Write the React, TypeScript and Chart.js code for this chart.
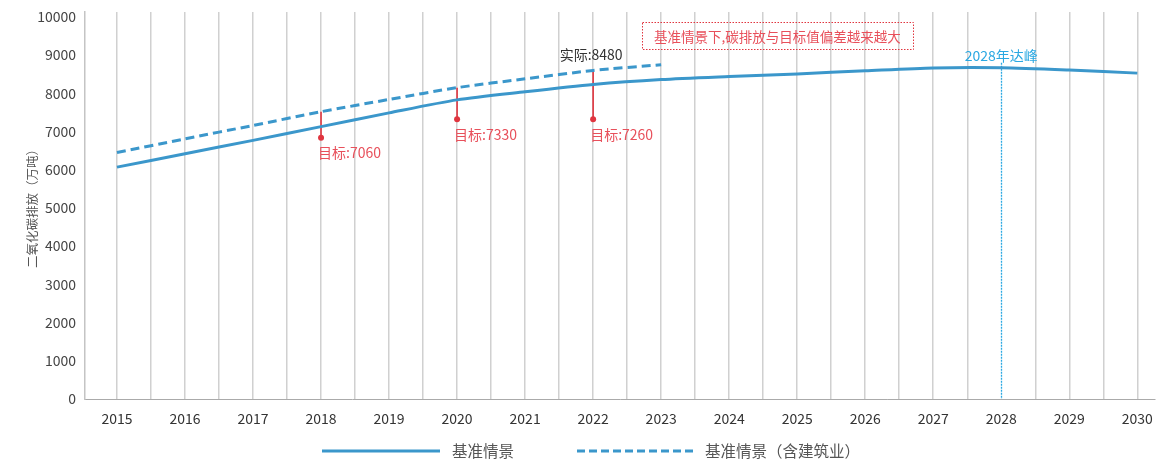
import React, { useEffect, useRef } from 'react';
import { Chart, registerables } from 'chart.js';

Chart.register(...registerables);

// ---- data ----
const YEARS = [2015, 2016, 2017, 2018, 2019, 2020, 2021, 2022, 2023, 2024, 2025, 2026, 2027, 2028, 2029, 2030];
const BASELINE = [6070, 6420, 6770, 7130, 7490, 7830, 8040, 8230, 8360, 8440, 8510, 8590, 8665, 8670, 8610, 8530];
const BUILDING_YEARS = [2015, 2016, 2017, 2018, 2019, 2020, 2021, 2022, 2023];
const WITH_BUILDING = [6450, 6810, 7160, 7520, 7840, 8150, 8380, 8600, 8750];
const TARGET_YEARS = [2018, 2020, 2022];
const TARGET_VALUES = [6840, 7320, 7320];
const TARGET_LABELS = ['目标:7060', '目标:7330', '目标:7260'];
const ACTUAL_YEAR = 2022;
const ACTUAL_LABEL = '实际:8480';
const PEAK_YEAR = 2028;
const PEAK_LABEL = '2028年达峰';
const NOTE_TEXT = '基准情景下,碳排放与目标值偏差越来越大';
const NOTE_YEAR = 2024.71;
const NOTE_VALUE = 9515;
const SERIES_NAMES = ['基准情景', '基准情景（含建筑业）'];
const Y_TICKS = [0, 1000, 2000, 3000, 4000, 5000, 6000, 7000, 8000, 9000, 10000];
const Y_TITLE = '二氧化碳排放（万吨）';

const BLUE = '#3b97cb';
const RED = '#e0353f';
const RED_TEXT = '#e8505b';
const PEAK_BLUE = '#2aa8e2';
const GRID = '#d0d0d0';
const FONT = '"Noto Sans CJK SC", "Noto Sans", sans-serif';

const GRID_YEARS = YEARS.flatMap((y) => (y < YEARS[YEARS.length - 1] ? [y, y + 0.5] : [y]));

const annotationPlugin = {
  id: 'annotations',
  beforeDatasetsDraw(chart: any) {
    const { ctx, scales } = chart;
    const xs = scales.x, ys = scales.y;
    ctx.save();
    ctx.strokeStyle = RED;
    ctx.lineWidth = 1.6;
    TARGET_YEARS.forEach((yr, i) => {
      const x = xs.getPixelForValue(yr);
      const top = ys.getPixelForValue(WITH_BUILDING[BUILDING_YEARS.indexOf(yr)]);
      const bot = ys.getPixelForValue(TARGET_VALUES[i]);
      ctx.beginPath();
      ctx.moveTo(x, top);
      ctx.lineTo(x, bot);
      ctx.stroke();
    });
    // peak dotted line
    const px = Math.round(xs.getPixelForValue(PEAK_YEAR)) + 0.5;
    ctx.strokeStyle = PEAK_BLUE;
    ctx.lineWidth = 1.3;
    ctx.setLineDash([2, 1]);
    ctx.beginPath();
    ctx.moveTo(px, ys.getPixelForValue(8800));
    ctx.lineTo(px, chart.chartArea.bottom);
    ctx.stroke();
    ctx.restore();
  },
  afterDatasetsDraw(chart: any) {
    const { ctx, scales } = chart;
    const xs = scales.x, ys = scales.y;
    ctx.save();
    ctx.font = `14px ${FONT}`;
    ctx.textBaseline = 'middle';
    TARGET_YEARS.forEach((yr, i) => {
      const x = xs.getPixelForValue(yr);
      const y = ys.getPixelForValue(TARGET_VALUES[i]);
      ctx.fillStyle = RED;
      ctx.beginPath();
      ctx.arc(x, y, 3, 0, Math.PI * 2);
      ctx.fill();
      ctx.fillStyle = RED_TEXT;
      ctx.textAlign = 'left';
      ctx.fillText(TARGET_LABELS[i], x - 3, y + 15);
    });
    // actual label
    const ax = xs.getPixelForValue(ACTUAL_YEAR);
    const ay = ys.getPixelForValue(WITH_BUILDING[BUILDING_YEARS.indexOf(ACTUAL_YEAR)]);
    ctx.fillStyle = '#333';
    ctx.textAlign = 'center';
    ctx.fillText(ACTUAL_LABEL, ax - 2, ay - 16);
    // peak label
    ctx.fillStyle = PEAK_BLUE;
    ctx.fillText(PEAK_LABEL, xs.getPixelForValue(PEAK_YEAR), ys.getPixelForValue(8975));
    // note box
    const nx = xs.getPixelForValue(NOTE_YEAR);
    const ny = ys.getPixelForValue(NOTE_VALUE);
    const w = 271, h = 27;
    ctx.strokeStyle = RED;
    ctx.lineWidth = 1;
    ctx.setLineDash([1.5, 1.5]);
    ctx.strokeRect(Math.round(nx - w / 2) + 0.5, Math.round(ny - h / 2) + 0.5, w, h);
    ctx.setLineDash([]);
    ctx.font = `13.5px ${FONT}`;
    ctx.fillStyle = RED_TEXT;
    ctx.fillText(NOTE_TEXT, nx, ny + 1);
    ctx.restore();
  },
  afterDraw(chart: any) {
    const { ctx } = chart;
    const y = 451;
    ctx.save();
    ctx.font = `15.5px ${FONT}`;
    ctx.textBaseline = 'middle';
    ctx.textAlign = 'left';
    const items = [
      { x0: 322, x1: 440, tx: 452, dash: [] as number[] },
      { x0: 577, x1: 694, tx: 705, dash: [8, 4] },
    ];
    items.forEach((it, i) => {
      ctx.strokeStyle = BLUE;
      ctx.lineWidth = 3;
      ctx.setLineDash(it.dash);
      ctx.beginPath();
      ctx.moveTo(it.x0, y);
      ctx.lineTo(it.x1, y);
      ctx.stroke();
      ctx.setLineDash([]);
      ctx.fillStyle = '#555';
      ctx.fillText(SERIES_NAMES[i], it.tx, y);
    });
    ctx.restore();
  },
};

export default function App() {
  const ref = useRef<HTMLCanvasElement>(null);
  useEffect(() => {
    if (!ref.current) return;
    Chart.defaults.font.family = FONT;
    const chart = new Chart(ref.current, {
      type: 'line',
      data: {
        datasets: [
          {
            label: SERIES_NAMES[0],
            data: YEARS.map((x, i) => ({ x, y: BASELINE[i] })),
            borderColor: BLUE,
            backgroundColor: BLUE,
            borderWidth: 3,
            pointRadius: 0,
            tension: 0.25,
            fill: false,
          },
          {
            label: SERIES_NAMES[1],
            data: BUILDING_YEARS.map((x, i) => ({ x, y: WITH_BUILDING[i] })),
            borderColor: BLUE,
            backgroundColor: BLUE,
            borderWidth: 3,
            borderDash: [9, 5],
            pointRadius: 0,
            tension: 0.25,
            fill: false,
          },
        ],
      },
      options: {
        animation: false,
        responsive: true,
        maintainAspectRatio: false,
        layout: { padding: { left: 0, right: 9, top: 12, bottom: 35 } },
        plugins: { legend: { display: false }, tooltip: { enabled: false } },
        scales: {
          x: {
            type: 'linear',
            min: 2014.53,
            max: 2030.26,
            afterBuildTicks: (scale: any) => {
              scale.ticks = GRID_YEARS.map((value) => ({ value }));
            },
            afterFit: (scale: any) => {
              scale.height = 28;
              scale.paddingLeft = 0;
              scale.paddingRight = 0;
            },
            grid: {
              color: (c: any) => (c.tick && c.tick.value === PEAK_YEAR ? 'rgba(0,0,0,0)' : GRID),
              lineWidth: 1.5,
              drawTicks: false,
            },
            border: { display: true, color: '#aaaaaa', width: 1 },
            ticks: {
              autoSkip: false,
              maxRotation: 0,
              padding: 11,
              color: '#333',
              font: { size: 14 },
              callback: (v: any) => (YEARS.includes(Number(v)) ? String(v) : ''),
            },
          },
          y: {
            type: 'linear',
            min: 0,
            max: 10130,
            afterBuildTicks: (scale: any) => {
              scale.ticks = Y_TICKS.map((value) => ({ value }));
            },
            afterFit: (scale: any) => {
              scale.width = 85;
              scale.paddingTop = 0;
              scale.paddingBottom = 0;
            },
            grid: { display: false, drawTicks: false },
            border: { display: true, color: '#c4c4c4', width: 1.5 },
            ticks: {
              padding: 9,
              color: '#444',
              font: { size: 14 },
              callback: (v: any) => String(v),
            },
            title: {
              display: true,
              text: Y_TITLE,
              color: '#555',
              font: { size: 12.5 },
              padding: { top: 25, bottom: 0 },
            },
          },
        },
      },
      plugins: [annotationPlugin],
    });
    return () => chart.destroy();
  }, []);
  return (
    <div style={{ position: 'absolute', left: 0, top: 0, width: 1164, height: 462 }}>
      <canvas ref={ref} />
    </div>
  );
}
